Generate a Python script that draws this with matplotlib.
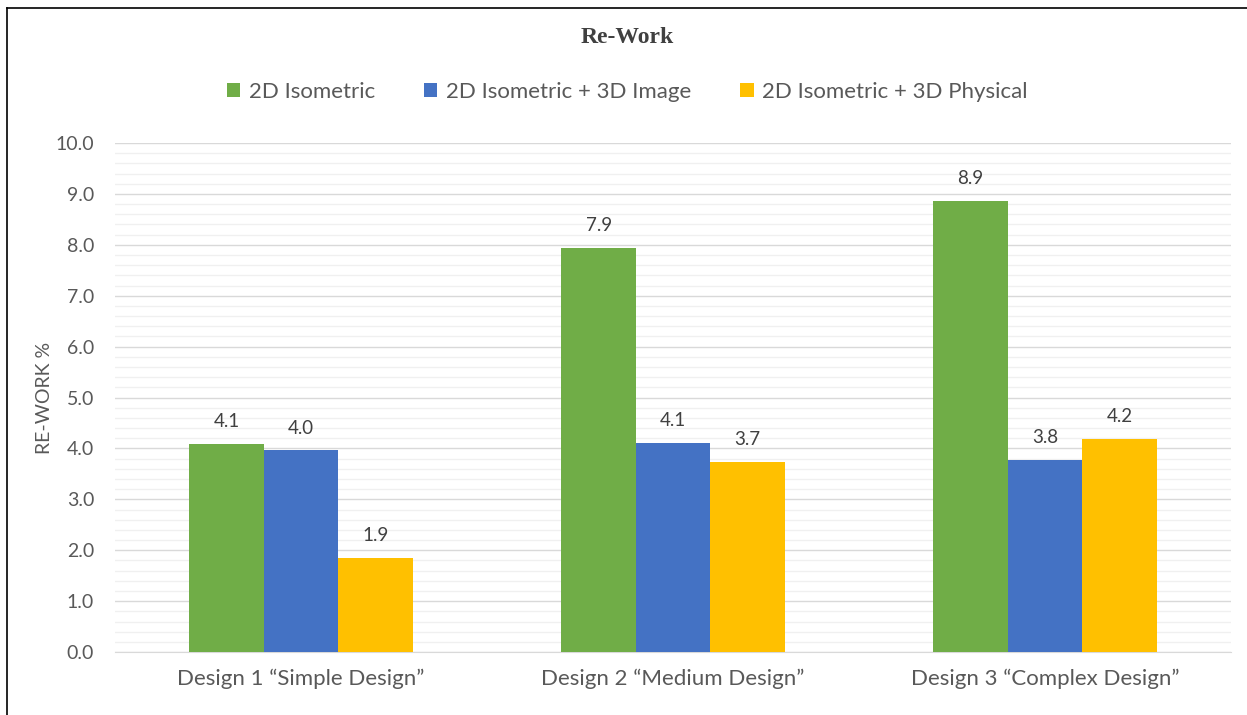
import matplotlib.pyplot as plt
import numpy as np
from matplotlib.lines import Line2D
from matplotlib.patches import Patch

# Data
categories = ['Design 1 \u201cSimple Design\u201d', 'Design 2 \u201cMedium Design\u201d', 'Design 3 \u201cComplex Design\u201d']
series_names = ['2D Isometric', '2D Isometric + 3D Image', '2D Isometric + 3D Physical']
iso_2d = [4.08, 7.93, 8.87]
iso_3d_image = [3.96, 4.11, 3.77]
iso_3d_physical = [1.85, 3.74, 4.18]
colors = ['#70AD47', '#4472C4', '#FFC000']

plt.rcParams['font.family'] = ['Lato', 'DejaVu Sans']
text_gray = '#595959'

fig = plt.figure(figsize=(12.47, 7.15), dpi=100)
ax = fig.add_axes([0.0922, 0.088, 0.895, 0.712])

x = np.arange(len(categories))
width = 0.2
all_series = [iso_2d, iso_3d_image, iso_3d_physical]
for i, (vals, col) in enumerate(zip(all_series, colors)):
    bars = ax.bar(x + (i - 1) * width, vals, width, color=col, zorder=3)
    for b, v in zip(bars, vals):
        ax.annotate(f'{v:.1f}', (b.get_x() + b.get_width() / 2, v),
                    xytext=(0, 10), textcoords='offset points',
                    ha='center', va='bottom', fontsize=13.5, color='#404040')

ax.set_xlim(-0.5, 2.5)
ax.set_ylim(0, 10)
ax.set_yticks(np.arange(0, 10.1, 1.0))
ax.set_yticklabels([f'{t:.1f}' for t in np.arange(0, 10.1, 1.0)])
ax.set_yticks(np.arange(0, 10.01, 0.2), minor=True)
ax.set_xticks(x)
ax.set_xticklabels(categories)
ax.grid(axis='y', which='major', color='#d9d9d9', linewidth=1, zorder=0)
ax.grid(axis='y', which='minor', color='#f0f0f0', linewidth=1, zorder=0)
ax.tick_params(axis='both', which='both', length=0)
ax.tick_params(axis='y', labelsize=14, labelcolor=text_gray, pad=15)
ax.tick_params(axis='x', labelsize=16, labelcolor=text_gray, pad=12)
for s in ['top', 'right', 'left']:
    ax.spines[s].set_visible(False)
ax.spines['bottom'].set_color('#d9d9d9')
ax.set_ylabel('RE-WORK %', fontsize=14, color=text_gray, labelpad=2)

fig.text(0.503, 0.948, 'Re-Work', ha='center', va='center', fontsize=17,
         fontweight='bold', family='Liberation Serif', color='#404040')

handles = [Patch(facecolor=c, edgecolor='none') for c in colors]
fig.legend(handles, series_names, loc='center', bbox_to_anchor=(0.503, 0.872),
           ncol=3, frameon=False, fontsize=16, handlelength=0.6, handleheight=0.6,
           handletextpad=0.4, columnspacing=2.2, labelcolor=text_gray)

# outer frame (left and top edges visible)
fig.add_artist(Line2D([0.0056, 0.0056], [0, 0.989], color='black', linewidth=1.2))
fig.add_artist(Line2D([0.0056, 1.0], [0.989, 0.989], color='black', linewidth=1.2))

fig.savefig('out.png', dpi=100)
